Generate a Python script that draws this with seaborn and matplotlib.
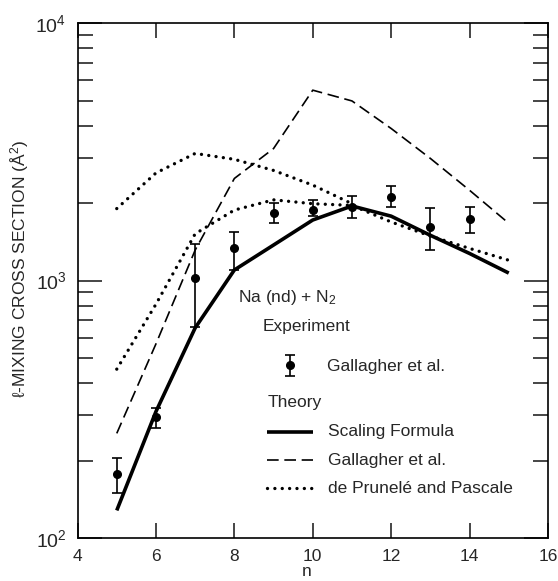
import matplotlib
matplotlib.use("Agg")
import matplotlib.pyplot as plt
from matplotlib.ticker import FixedLocator, LogLocator, NullFormatter, FixedFormatter
import numpy as np
import pandas as pd
import seaborn as sns

# Principal quantum number of the Na(nd) Rydberg state
n_theory = [5, 6, 7, 8, 9, 10, 11, 12, 13, 14, 15]

# Theory curves (cross section in Å^2)
scaling_formula = [128, 310, 655, 1100, 1375, 1720, 1950, 1780, 1500, 1275, 1070]
gallagher_theory = [255, 568, 1314, 2494, 3260, 5495, 4990, 3900, 2984, 2244, 1670]
prunele_lower = [453, 810, 1520, 1880, 2060, 1990, 1960, 1690, 1490, 1334, 1200]
n_prunele_upper = [5, 6, 7, 8, 9, 10, 11]
prunele_upper = [1905, 2620, 3120, 2960, 2680, 2350, 1990]

# Experiment (Gallagher et al.) with error limits
n_exp = [5, 6, 7, 8, 9, 10, 11, 12, 13, 14]
exp_value = [177, 294, 1020, 1340, 1833, 1880, 1940, 2120, 1618, 1733]
exp_low = [149, 267, 658, 1100, 1677, 1778, 1755, 1935, 1318, 1536]
exp_high = [204, 319, 1382, 1547, 1995, 2066, 2128, 2328, 1920, 1940]

x_ticks = [4, 6, 8, 10, 12, 14, 16]
y_ticks = [1e2, 1e3, 1e4]
y_tick_labels = [r"10$^{2}$", r"10$^{3}$", r"10$^{4}$"]

sns.set_style("ticks")
plt.rcParams["font.family"] = ["Liberation Sans", "DejaVu Sans"]
plt.rcParams["mathtext.fontset"] = "custom"
plt.rcParams["mathtext.rm"] = "Liberation Sans"
plt.rcParams["mathtext.it"] = "Liberation Sans:italic"
plt.rcParams["mathtext.bf"] = "Liberation Sans:bold"

fig, ax = plt.subplots(figsize=(5.58, 5.81), dpi=100)
fig.subplots_adjust(left=0.139, right=0.982, top=0.960, bottom=0.074)
ax.set_yscale("log")

theory = pd.DataFrame({
    "n": n_theory,
    "scaling": scaling_formula,
    "gallagher": gallagher_theory,
    "prunele_lower": prunele_lower,
})
upper = pd.DataFrame({"n": n_prunele_upper, "prunele_upper": prunele_upper})

dash_style = (0, (7, 3.4))
dot_style = (0, (0.01, 2.2))
dot_lw = 2.4

sns.lineplot(data=theory, x="n", y="scaling", color="black", lw=2.6,
             solid_capstyle="butt", ax=ax)
sns.lineplot(data=theory, x="n", y="gallagher", color="black", lw=1.2,
             linestyle=dash_style, ax=ax)
sns.lineplot(data=theory, x="n", y="prunele_lower", color="black", lw=dot_lw,
             linestyle=dot_style, dash_capstyle="round", ax=ax)
sns.lineplot(data=upper, x="n", y="prunele_upper", color="black", lw=dot_lw,
             linestyle=dot_style, dash_capstyle="round", ax=ax)

yerr = [np.array(exp_value) - np.array(exp_low),
        np.array(exp_high) - np.array(exp_value)]
ax.errorbar(n_exp, exp_value, yerr=yerr, fmt="o", color="black", ms=5.5,
            elinewidth=1.2, capsize=3.4, capthick=1.2, zorder=4)

ax.set_xlim(4, 16)
ax.set_ylim(1e2, 1e4)

# Axis frame and ticks
for sp in ax.spines.values():
    sp.set_linewidth(1.2)
    sp.set_color("black")
ax.xaxis.set_major_locator(FixedLocator(x_ticks))
ax.yaxis.set_major_locator(FixedLocator(y_ticks))
ax.yaxis.set_major_formatter(FixedFormatter(y_tick_labels))
ax.yaxis.set_minor_locator(LogLocator(base=10, subs=np.arange(2, 10)))
ax.yaxis.set_minor_formatter(NullFormatter())
ax.tick_params(axis="x", which="major", direction="in", top=True, bottom=True,
               length=11, width=1.2, pad=8, labelsize=12.5)
ax.tick_params(axis="y", which="major", direction="in", left=True, right=True,
               length=17, width=1.2, pad=8, labelsize=14)
ax.tick_params(axis="y", which="minor", direction="in", left=True, right=True,
               length=11, width=1.2)

ax.set_xlabel("n", fontsize=12.5)
ax.xaxis.set_label_coords(0.486, -0.050)
ax.set_ylabel("ℓ-MIXING CROSS SECTION (Å$^{2}$)", fontsize=12.5)
ax.yaxis.set_label_coords(-0.100, 0.522)

# Key drawn inside the plot area
T = ax.transAxes
fs = 12.5
ax.text(0.341, 0.468, "Na (nd) + N$_{2}$", transform=T, fontsize=fs, va="center")
ax.text(0.394, 0.410, "Experiment", transform=T, fontsize=fs, va="center")
ax.errorbar([0.452], [0.336], yerr=[[0.0214], [0.019]], transform=T, fmt="o",
            color="black", ms=5.5, elinewidth=1.2, capsize=3.4, capthick=1.2,
            clip_on=False)
ax.text(0.530, 0.333, "Gallagher et al.", transform=T, fontsize=fs, va="center")
ax.text(0.403, 0.264, "Theory", transform=T, fontsize=fs, va="center")

ax.plot([0.403, 0.5005], [0.206, 0.206], transform=T, color="black", lw=2.6,
        solid_capstyle="butt")
ax.plot([0.403, 0.5005], [0.151, 0.151], transform=T, color="black", lw=1.2,
        linestyle=dash_style)
ax.plot([0.403, 0.5005], [0.097, 0.097], transform=T, color="black", lw=dot_lw,
        linestyle=dot_style, dash_capstyle="round")
ax.text(0.532, 0.206, "Scaling Formula", transform=T, fontsize=fs, va="center")
ax.text(0.532, 0.151, "Gallagher et al.", transform=T, fontsize=fs, va="center")
ax.text(0.532, 0.097, "de Prunelé and Pascale", transform=T, fontsize=fs, va="center")

fig.savefig("out.png", dpi=100)
